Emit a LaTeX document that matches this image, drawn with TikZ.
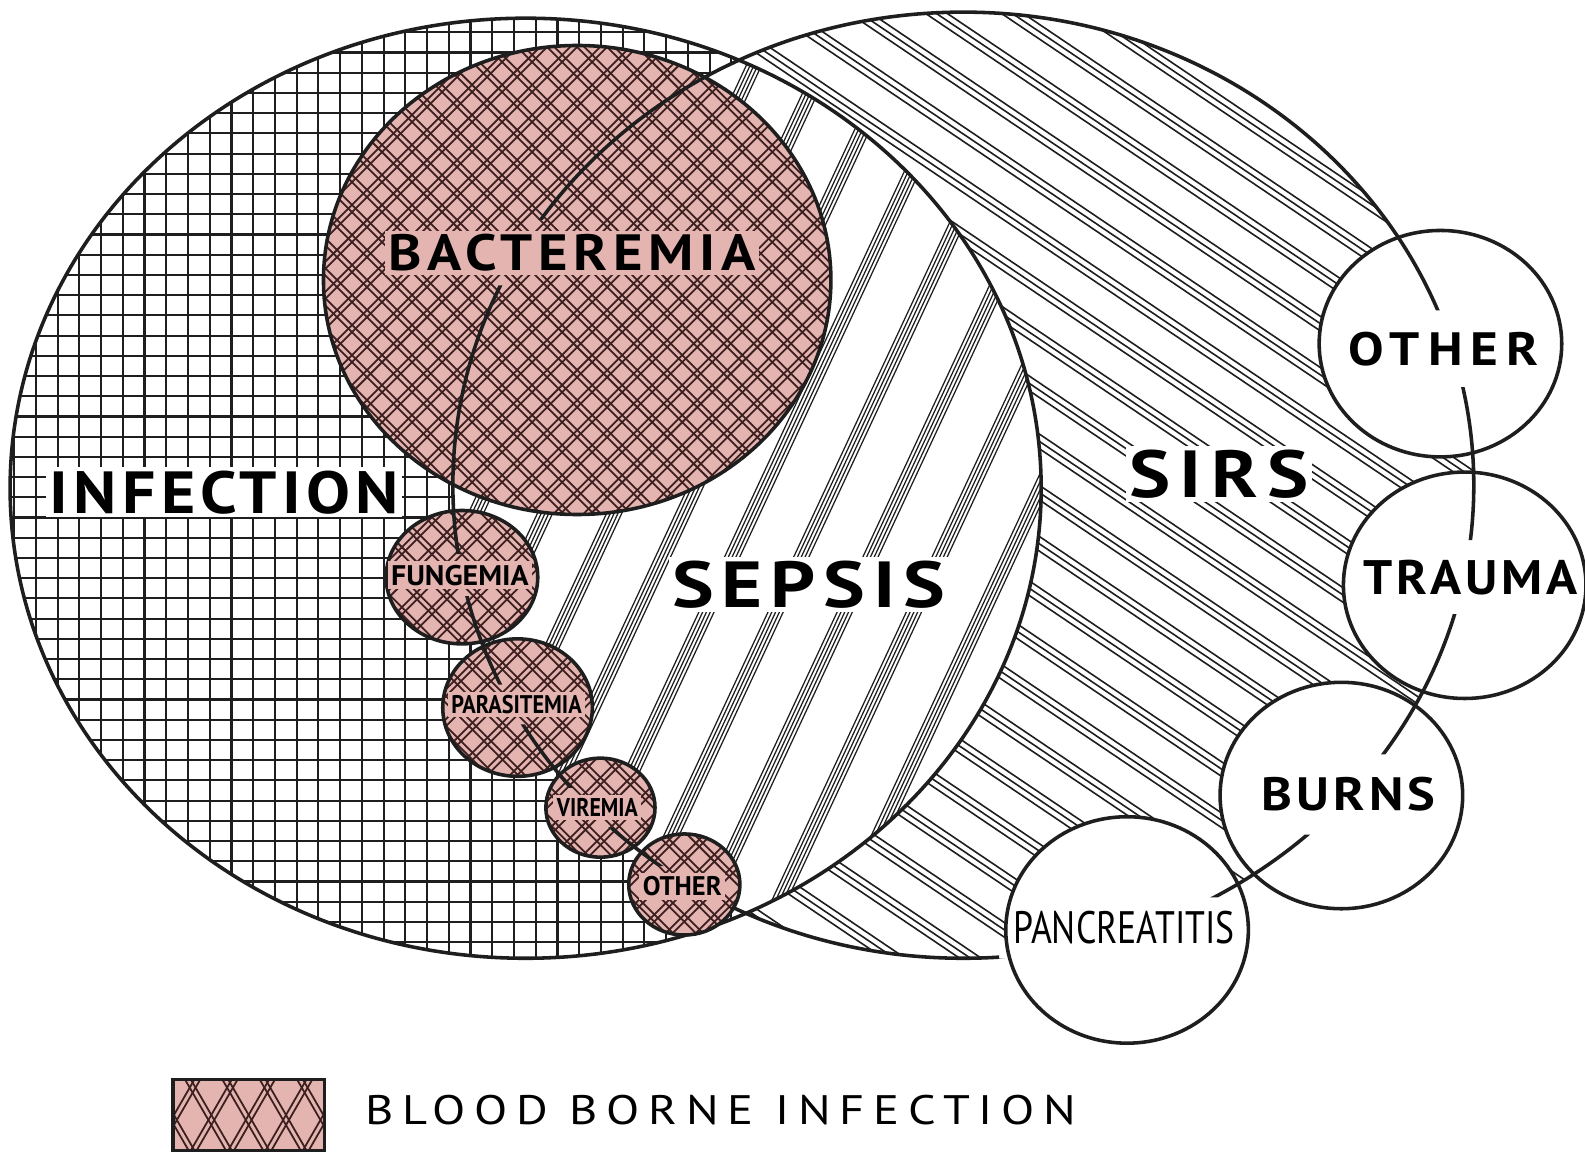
\documentclass[tikz,border=0pt]{standalone}
\usepackage{fontspec}
\setmainfont{PT Sans}
\usepackage{graphicx}
\usetikzlibrary{positioning}
\definecolor{PK}{RGB}{228,180,176}
\definecolor{DG}{RGB}{30,30,30}
\definecolor{DR}{RGB}{60,32,32}
\newcommand{\InfE}{(520,483) ellipse [x radius=510, y radius=465]}
\newcommand{\SirsE}{(953,480) ellipse [x radius=505, y radius=468]}
\newcommand{\fitl}[5][]{\resizebox{#2cm}{#3cm}{#1\addfontfeatures{LetterSpace=#4}#5}}

\begin{document}
\begin{tikzpicture}[x=0.01cm, y=-0.01cm,
  hl/.style={draw=DG, line width=0.45pt},
  xl/.style={draw=DR, line width=0.5pt},
  ol/.style={draw=DG, line width=1pt},
  lbl/.style={inner sep=1pt, outer sep=#1, text=black},
  lbl/.default=0pt
]
\useasboundingbox (0,0) rectangle (1568,1140);
\fill[white] (0,0) rectangle (1568,1140);

% infection grid
\begin{scope}
  \clip \InfE;
  \foreach \x in {14,35.5,...,1040} \draw[hl, line width=0.6pt] (\x,10) -- (\x,960);
  \foreach \y in {12,32,...,960} \draw[hl, line width=0.6pt] (0,\y) -- (1040,\y);
\end{scope}

% sirs hatch
\begin{scope}
  \clip \SirsE;
  \fill[white] \SirsE;
  \begin{scope}[shift={(953,480)}, rotate=-34]
    \foreach \g in {-14,...,14}
      \foreach \d in {0,6,12} \draw[hl] (-800,\g*42+\d) -- (800,\g*42+\d);
  \end{scope}
\end{scope}

% sepsis bands
\begin{scope}
  \clip \InfE;
  \clip \SirsE;
  \fill[white] (400,0) rectangle (1100,1000);
  \begin{scope}[shift={(781,560)}, rotate=65]
    \foreach \g in {-9,...,9}
      \foreach \d in {0,3.4,6.8,10.2,13.6}
        \draw[hl, line width=0.35pt] (-700,\g*62+\d) -- (700,\g*62+\d);
  \end{scope}
\end{scope}

\draw[ol] \InfE;

% blood borne circles
\foreach \cx/\cy/\rx/\ry in {571/277/251/232, 457/571/75/66, 512/700/74/68, 594/799/54/49, 677/875/55/50} {
  \fill[PK] (\cx,\cy) ellipse [x radius=\rx, y radius=\ry];
  \begin{scope}
    \clip (\cx,\cy) ellipse [x radius=\rx, y radius=\ry];
    \foreach \a in {45,-45}
      \foreach \k in {-13,...,13}
        \draw[xl, shift={(\cx,\cy)}, rotate=\a] (-360,\k*21) -- (360,\k*21)
          (-360,\k*21+5) -- (360,\k*21+5);
  \end{scope}
}
\foreach \cx/\cy/\rx/\ry in {571/277/251/232, 457/571/75/66, 512/700/74/68, 594/799/54/49, 677/875/55/50}
  \draw[ol] (\cx,\cy) ellipse [x radius=\rx, y radius=\ry];

% other causes
\foreach \cx/\cy in {1425/340, 1449/579, 1327/787, 1115/920}
  \fill[white] (\cx,\cy) ellipse [x radius=120, y radius=112];
\foreach \cx/\cy in {1425/340, 1449/579, 1327/787, 1115/920}
  \draw[ol] (\cx,\cy) ellipse [x radius=120, y radius=112];

% legend box
\begin{scope}
  \clip (171,1068) rectangle (321,1138);
  \fill[PK] (171,1068) rectangle (321,1138);
  \foreach \a in {60,-60}
    \foreach \k in {-5,...,5}
      \draw[xl, shift={(246,1103)}, rotate=\a] (-150,\k*32) -- (150,\k*32)
        (-150,\k*32+5) -- (150,\k*32+5);
\end{scope}
\draw[ol] (171,1068) rectangle (321,1138);

\node[lbl, fill=white] (inf) at (222,487) {\fitl[\bfseries]{3.45}{0.42}{8}{INFECTION}};
\node[lbl, fill=white] (sep) at (800,578) {\fitl[\bfseries]{2.70}{0.46}{10}{SEPSIS}};
\node[lbl, fill=white] (sirs) at (1206,469) {\fitl[\bfseries]{1.77}{0.47}{12}{SIRS}};
\node[lbl=3pt, fill=PK] (bac) at (566,250) {\fitl[\bfseries]{3.63}{0.36}{10}{BACTEREMIA}};
\node[lbl=2pt, fill=PK] (fun) at (455,569) {\fitl[\bfseries]{1.36}{0.20}{0}{FUNGEMIA}};
\node[lbl=2pt, fill=PK] (par) at (511,697) {\fitl[\bfseries]{1.29}{0.18}{0}{PARASITEMIA}};
\node[lbl=2pt, fill=PK] (vir) at (591,799) {\fitl[\bfseries]{0.80}{0.18}{0}{VIREMIA}};
\node[lbl=2pt, fill=PK] (obd) at (675,877) {\fitl[\bfseries]{0.78}{0.19}{0}{OTHER}};
\node[lbl=5pt] (oth) at (1428,345) {\fitl[\bfseries]{1.88}{0.33}{15}{OTHER}};
\node[lbl=4.5pt] (tra) at (1455,571) {\fitl[\bfseries]{2.12}{0.34}{8}{TRAUMA}};
\node[lbl=5.5pt] (bur) at (1334,786) {\fitl[\bfseries]{1.72}{0.33}{8}{BURNS}};
\node[lbl=3pt] (pan) at (1112,918) {\fitl{2.19}{0.32}{0}{PANCREATITIS}};
\node[lbl] (leg) at (713,1098) {\fitl{7.03}{0.29}{18}{BLOOD BORNE INFECTION}};

% sirs border, broken at the labels
\begin{scope}
  \clip (-50,-50) -- (1650,-50) -- (1650,1200) -- (-50,1200) -- cycle
    \foreach \n in {bac,fun,par,vir,obd,oth,tra,bur,pan} {
      (\n.south west) -- (\n.south east) -- (\n.north east) -- (\n.north west) -- cycle};
  \draw[ol] \SirsE;
\end{scope}
\end{tikzpicture}
\end{document}
